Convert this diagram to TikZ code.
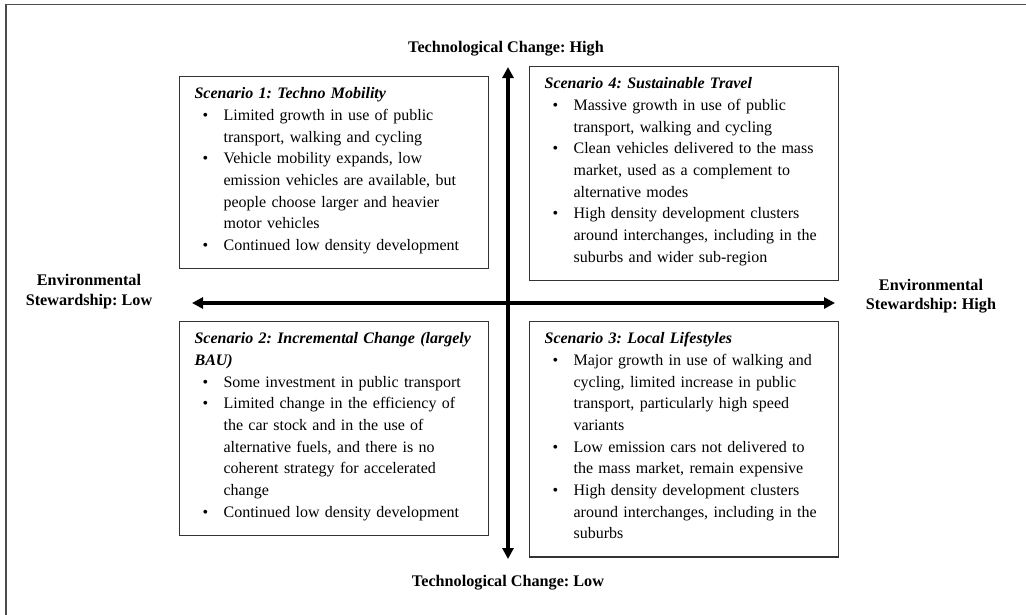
\documentclass[tikz,border=0pt]{standalone}
\usepackage{fontspec}
\setmainfont{Liberation Serif}
\usetikzlibrary{arrows.meta}

% bullet line with hanging indent, title line and closing strut
\newcommand{\bul}{\par\hangindent=29pt\hangafter=1\noindent\makebox[29pt][l]{\hspace*{8pt}\textbullet}}
\newcommand{\scentitle}[1]{\noindent\mbox{\rule{0pt}{22pt}\textbf{\textit{#1}}}}
\newcommand{\lastline}{\rule[-18pt]{0pt}{18pt}\par}

\begin{document}
\begin{tikzpicture}[x=1pt,y=1pt,
    scenario/.style={draw=black!80,line width=1.2pt,anchor=north west,
                     text width=279pt,inner xsep=15pt,inner ysep=0pt,align=left,
                     font=\fontsize{16}{21.7}\selectfont\frenchspacing},
    axis/.style={line width=3.6pt,
                 {Triangle[length=11pt,width=11pt]}-{Triangle[length=11pt,width=11pt]}},
    axislabel/.style={font=\fontsize{16.2}{19.5}\selectfont\bfseries\frenchspacing,
                      align=center,inner sep=0pt}]
  \useasboundingbox (0,0) rectangle (1026,-614);
  \draw[black!70,line width=1.2pt] (6,-640) -- (6,-4.5) -- (1040,-4.5);

  % the two axes
  \coordinate (hi)   at (508,-67);
  \coordinate (lo)   at (508,-559);
  \coordinate (west) at (192,-303);
  \coordinate (east) at (835,-303);
  \draw[axis] (lo) -- (hi);
  \draw[axis] (west) -- (east);

  \node[axislabel,anchor=base] (techhigh) at (506,-52)  {Technological Change: High};
  \node[axislabel,anchor=base] (techlow)  at (508,-586) {Technological Change: Low};
  \node[axislabel] (envlow)  at (89,-291.5) {Environmental\\Stewardship: Low};
  \node[axislabel] (envhigh) at (931,-296)  {Environmental\\Stewardship: High};

  % the four quadrants
  \node[scenario] (techno) at (179,-76) {%
    \scentitle{Scenario 1: Techno Mobility}
    \bul Limited growth in use of public\newline transport, walking and cycling
    \bul Vehicle mobility expands, low\newline emission vehicles are available, but\newline
         people choose larger and heavier\newline motor vehicles
    \bul Continued low density development\lastline};

  \node[scenario] (sustain) at (529,-66) {%
    \scentitle{Scenario 4: Sustainable Travel}
    \bul Massive growth in use of public\newline transport, walking and cycling
    \bul Clean vehicles delivered to the mass\newline market, used as a complement to\newline
         alternative modes
    \bul High density development clusters\newline around interchanges, including in the\newline
         suburbs and wider sub-region\lastline};

  \node[scenario] (incr) at (179,-321) {%
    \scentitle{Scenario 2: Incremental Change (largely}\newline\textbf{\textit{BAU)}}
    \bul Some investment in public transport
    \bul Limited change in the efficiency of\newline the car stock and in the use of\newline
         alternative fuels, and there is no\newline coherent strategy for accelerated\newline change
    \bul Continued low density development\lastline};

  \node[scenario] (local) at (529,-321) {%
    \scentitle{Scenario 3: Local Lifestyles}
    \bul Major growth in use of walking and\newline cycling, limited increase in public\newline
         transport, particularly high speed\newline variants
    \bul Low emission cars not delivered to\newline the mass market, remain expensive
    \bul High density development clusters\newline around interchanges, including in the\newline
         suburbs\lastline};
\end{tikzpicture}
\end{document}
